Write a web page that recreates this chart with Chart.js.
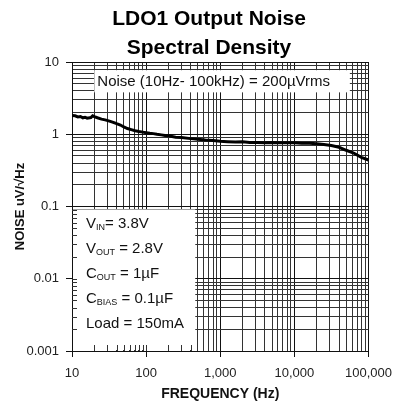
<!DOCTYPE html>
<html>
<head>
<meta charset="utf-8">
<script src="https://cdn.jsdelivr.net/npm/chart.js@4/dist/chart.umd.min.js"></script>
<style>
html, body { margin: 0; padding: 0; background: #fff; }
#wrap { width: 401px; height: 401px; }
</style>
</head>
<body>
<div id="wrap"><canvas id="myChart"></canvas></div>
<script>
// measured noise density, uV/rtHz
var freq = [10, 11, 12, 13, 14, 15, 16, 18, 19, 20, 22, 25, 28, 32, 36, 40, 45, 50, 56, 63, 71, 80, 90,
    100, 112, 125, 140, 160, 180, 200, 250, 300, 400, 500, 630, 800, 1000, 1250, 1600, 2000, 2500,
    3150, 4000, 5000, 6300, 8000, 10000, 12500, 16000, 20000, 25000, 31500, 40000, 50000, 63000,
    80000, 100000];
var noise = [1.82, 1.8, 1.74, 1.76, 1.69, 1.72, 1.67, 1.7, 1.8, 1.75, 1.69, 1.62, 1.58, 1.52, 1.46, 1.4, 1.34, 1.26, 1.2, 1.16, 1.12, 1.09, 1.07,
    1.05, 1.03, 1.02, 1.0, 0.98, 0.96, 0.95, 0.91, 0.9, 0.87, 0.85, 0.83, 0.82, 0.8, 0.79, 0.78, 0.79, 0.77,
    0.77, 0.76, 0.77, 0.76, 0.76, 0.76, 0.75, 0.75, 0.74, 0.72, 0.7, 0.66, 0.6, 0.55,
    0.48, 0.44];

var xDecades = [10, 100, 1000, 10000, 100000];
var xTickLabels = ['10', '100', '1,000', '10,000', '100,000'];
var yDecades = [0.001, 0.01, 0.1, 1, 10];
var yTickLabels = ['0.001', '0.01', '0.1', '1', '10'];

var titleLines = ['LDO1 Output Noise', 'Spectral Density'];
var noteTop = 'Noise (10Hz- 100kHz) = 200\u00b5Vrms';
var conditions = [
    ['V', 'IN', '= 3.8V'],
    ['V', 'OUT', ' = 2.8V'],
    ['C', 'OUT', ' = 1\u00b5F'],
    ['C', 'BIAS', ' = 0.1\u00b5F'],
    ['Load = 150mA', '', '']
];

function logTicks(decades) {
    var out = [];
    for (var i = 0; i < decades.length; i++) {
        out.push({ value: decades[i], major: true });
        if (i < decades.length - 1) {
            for (var m = 2; m <= 9; m++) out.push({ value: decades[i] * m, major: false });
        }
    }
    return out;
}
function isMajor(list, v) {
    for (var i = 0; i < list.length; i++) if (Math.abs(list[i] - v) / list[i] < 1e-6) return i;
    return -1;
}

var FONT = '"Liberation Sans", Arial, sans-serif';

var notesPlugin = {
    id: 'notes',
    beforeDatasetsDraw: function (chart) {
        var xs = chart.scales.x, ys = chart.scales.y, ctx = chart.ctx, a = chart.chartArea;
        ctx.save();

        // top note
        var l = xs.getPixelForValue(20), r = xs.getPixelForValue(56000);
        var t = ys.getPixelForValue(7.7), b = ys.getPixelForValue(3.8);
        ctx.fillStyle = '#fff';
        ctx.fillRect(l, t, r - l, b - t);
        ctx.fillStyle = '#111';
        ctx.font = '15px ' + FONT;
        ctx.textBaseline = 'middle';
        ctx.fillText(noteTop, l + 3, (t + b) / 2 + 1);

        // conditions box, lower left
        var bx = a.left + 1, br = xs.getPixelForValue(460), bt = ys.getPixelForValue(0.091), bb = a.bottom - 1;
        ctx.fillStyle = '#fff';
        ctx.fillRect(bx, bt, br - bx, bb - bt);

        // inward ticks hidden under the box
        ctx.strokeStyle = '#333';
        ctx.lineWidth = 1;
        ctx.beginPath();
        xs.ticks.forEach(function (tk) {
            if (tk.value > 10 && tk.value < 460) {
                var px = Math.round(xs.getPixelForValue(tk.value)) + 0.5;
                ctx.moveTo(px, a.bottom);
                ctx.lineTo(px, a.bottom - 6);
            }
        });
        ys.ticks.forEach(function (tk) {
            if (tk.value > 0.001 && tk.value < 0.091) {
                var py = Math.round(ys.getPixelForValue(tk.value)) + 0.5;
                ctx.moveTo(a.left, py);
                ctx.lineTo(a.left + 5, py);
            }
        });
        ctx.stroke();

        ctx.fillStyle = '#111';
        var tx = bx + 13, ty = bt + 14;
        conditions.forEach(function (c, i) {
            var yy = ty + i * 25;
            ctx.font = '15px ' + FONT;
            ctx.textBaseline = 'middle';
            ctx.fillText(c[0], tx, yy);
            var w = ctx.measureText(c[0]).width;
            if (c[1]) {
                ctx.font = '9px ' + FONT;
                ctx.fillText(c[1], tx + w, yy + 4);
                w += ctx.measureText(c[1]).width;
                ctx.font = '15px ' + FONT;
                ctx.fillText(c[2], tx + w, yy);
            }
        });
        ctx.restore();
    },
    afterDraw: function (chart) {
        var ctx = chart.ctx;
        ctx.save();
        ctx.fillStyle = '#000';
        ctx.font = 'bold 21px ' + FONT;
        ctx.textAlign = 'center';
        ctx.textBaseline = 'middle';
        titleLines.forEach(function (s, i) {
            ctx.fillText(s, 209, 19 + i * 29);
        });
        ctx.restore();
    }
};

var points = freq.map(function (f, i) { return { x: f, y: noise[i] }; });

var ctx = document.getElementById('myChart').getContext('2d');
var myChart = new Chart(ctx, {
    type: 'line',
    data: {
        datasets: [{
            data: points,
            borderColor: '#000',
            borderWidth: 3,
            pointRadius: 0,
            fill: false,
            tension: 0
        }]
    },
    plugins: [notesPlugin],
    options: {
        responsive: true,
        maintainAspectRatio: false,
        animation: false,
        layout: { padding: { left: 0, right: 29, top: 62, bottom: 0 } },
        plugins: {
            legend: { display: false },
            tooltip: { enabled: false },
            title: { display: false }
        },
        scales: {
            x: {
                type: 'logarithmic',
                min: 10,
                max: 100000,
                afterBuildTicks: function (s) { s.ticks = logTicks(xDecades); },
                afterFit: function (s) { s.height = 50; },
                border: { display: true, color: '#111', width: 1 },
                grid: {
                    color: function (c) { return isMajor(xDecades, c.tick.value) >= 0 ? '#111' : '#333'; },
                    tickColor: function (c) { return isMajor(xDecades, c.tick.value) >= 0 ? '#111' : 'rgba(0,0,0,0)'; },
                    tickLength: 6,
                    lineWidth: 1
                },
                ticks: {
                    autoSkip: false,
                    maxRotation: 0,
                    padding: 9,
                    color: '#222',
                    font: { family: FONT, size: 13 },
                    callback: function (v) {
                        var i = isMajor(xDecades, v);
                        return i >= 0 ? xTickLabels[i] : '';
                    }
                },
                title: {
                    display: true,
                    text: 'FREQUENCY (Hz)',
                    color: '#111',
                    font: { family: FONT, size: 14, weight: 'bold' },
                    padding: { top: 0, bottom: -2 }
                }
            },
            y: {
                type: 'logarithmic',
                min: 0.001,
                max: 10,
                afterBuildTicks: function (s) { s.ticks = logTicks(yDecades); },
                afterFit: function (s) { s.width = 72; },
                border: { display: true, color: '#111', width: 1 },
                grid: {
                    color: function (c) { return isMajor(yDecades, c.tick.value) >= 0 ? '#111' : '#333'; },
                    tickColor: function (c) { return isMajor(yDecades, c.tick.value) >= 0 ? '#111' : 'rgba(0,0,0,0)'; },
                    tickLength: 6,
                    lineWidth: 1
                },
                ticks: {
                    autoSkip: false,
                    padding: 7,
                    color: '#222',
                    font: { family: FONT, size: 13 },
                    callback: function (v) {
                        var i = isMajor(yDecades, v);
                        return i >= 0 ? yTickLabels[i] : '';
                    }
                },
                title: {
                    display: true,
                    text: 'NOISE uV/\u221aHz',
                    color: '#111',
                    font: { family: FONT, size: 13, weight: 'bold' },
                    padding: { top: 13, bottom: 0 }
                }
            }
        }
    }
});
</script>
</body>
</html>
